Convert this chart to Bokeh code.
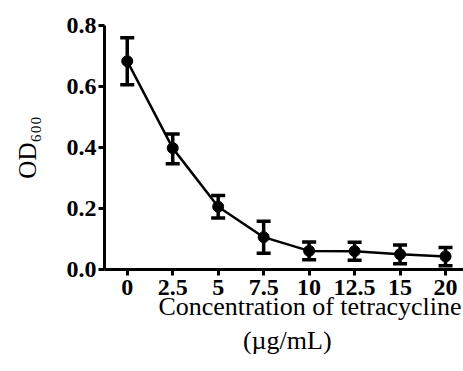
from bokeh.plotting import figure
from bokeh.models import FixedTicker, Whisker, ColumnDataSource, Range1d, TeeHead
from bokeh.embed import file_html
from bokeh.resources import INLINE

categories = ["0", "2.5", "5", "7.5", "10", "12.5", "15", "20"]
od_mean = [0.683, 0.398, 0.206, 0.106, 0.061, 0.060, 0.050, 0.043]
od_upper = [0.760, 0.444, 0.243, 0.158, 0.090, 0.089, 0.080, 0.072]
od_lower = [0.606, 0.347, 0.169, 0.053, 0.032, 0.030, 0.019, 0.012]
y_ticks = [0.0, 0.2, 0.4, 0.6, 0.8]
y_tick_labels = ["0.0", "0.2", "0.4", "0.6", "0.8"]
x_title = "Concentration of tetracycline"
x_unit = "(µg/mL)"
y_title = "OD\u2086\u2080\u2080"

xs = list(range(len(categories)))
W, H = 463, 358
FONT = "Liberation Serif"

p = figure(width=W, height=H, output_backend="svg", toolbar_location=None,
           x_range=Range1d(-0.5, 7.395), y_range=Range1d(0, 0.8),
           min_border_left=104, min_border_right=0, min_border_top=25,
           min_border_bottom=10)
p.grid.visible = False
p.outline_line_color = None
p.background_fill_color = "white"
p.border_fill_color = "white"

src = ColumnDataSource(dict(x=xs, y=od_mean, upper=od_upper, lower=od_lower))
p.line("x", "y", source=src, line_color="black", line_width=2.5)
p.add_layout(Whisker(source=src, base="x", upper="upper", lower="lower",
                     line_color="black", line_width=3.5,
                     upper_head=None, lower_head=None))
p.add_layout(Whisker(source=src, base="x", upper="upper", lower="lower",
                     line_alpha=0,
                     upper_head=TeeHead(size=14, line_width=3.5, line_color="black"),
                     lower_head=TeeHead(size=14, line_width=3.5, line_color="black")))
p.scatter("x", "y", source=src, size=11, color="black")

for ax in (p.xaxis[0], p.yaxis[0]):
    ax.axis_line_width = 3
    ax.major_tick_line_width = 3
    ax.minor_tick_line_color = None
    ax.major_tick_in = 0
    ax.major_tick_out = 6
    ax.major_label_text_font = FONT
    ax.major_label_text_font_style = "bold"
    ax.major_label_text_font_size = "24px"
    ax.major_label_text_color = "black"
    ax.axis_label_text_font = FONT
    ax.axis_label_text_font_style = "normal"
    ax.axis_label_text_color = "black"

p.xaxis.ticker = FixedTicker(ticks=xs)
p.xaxis.major_label_overrides = {i: c for i, c in zip(xs, categories)}
p.xaxis.major_label_standoff = 4
p.xaxis.axis_label = "\u00a0" * 8 + x_title + "\n" + "\u00a0" + x_unit
p.xaxis.axis_label_text_font_size = "26px"
p.xaxis.axis_label_standoff = -6

p.yaxis.ticker = FixedTicker(ticks=y_ticks)
p.yaxis.major_label_overrides = {t: l for t, l in zip(y_ticks, y_tick_labels)}
p.yaxis.major_label_standoff = 2
p.yaxis.axis_label = y_title
p.yaxis.axis_label_text_font_size = "25px"
p.yaxis.axis_label_standoff = 23

open("out.html", "w").write(file_html(p, INLINE))
